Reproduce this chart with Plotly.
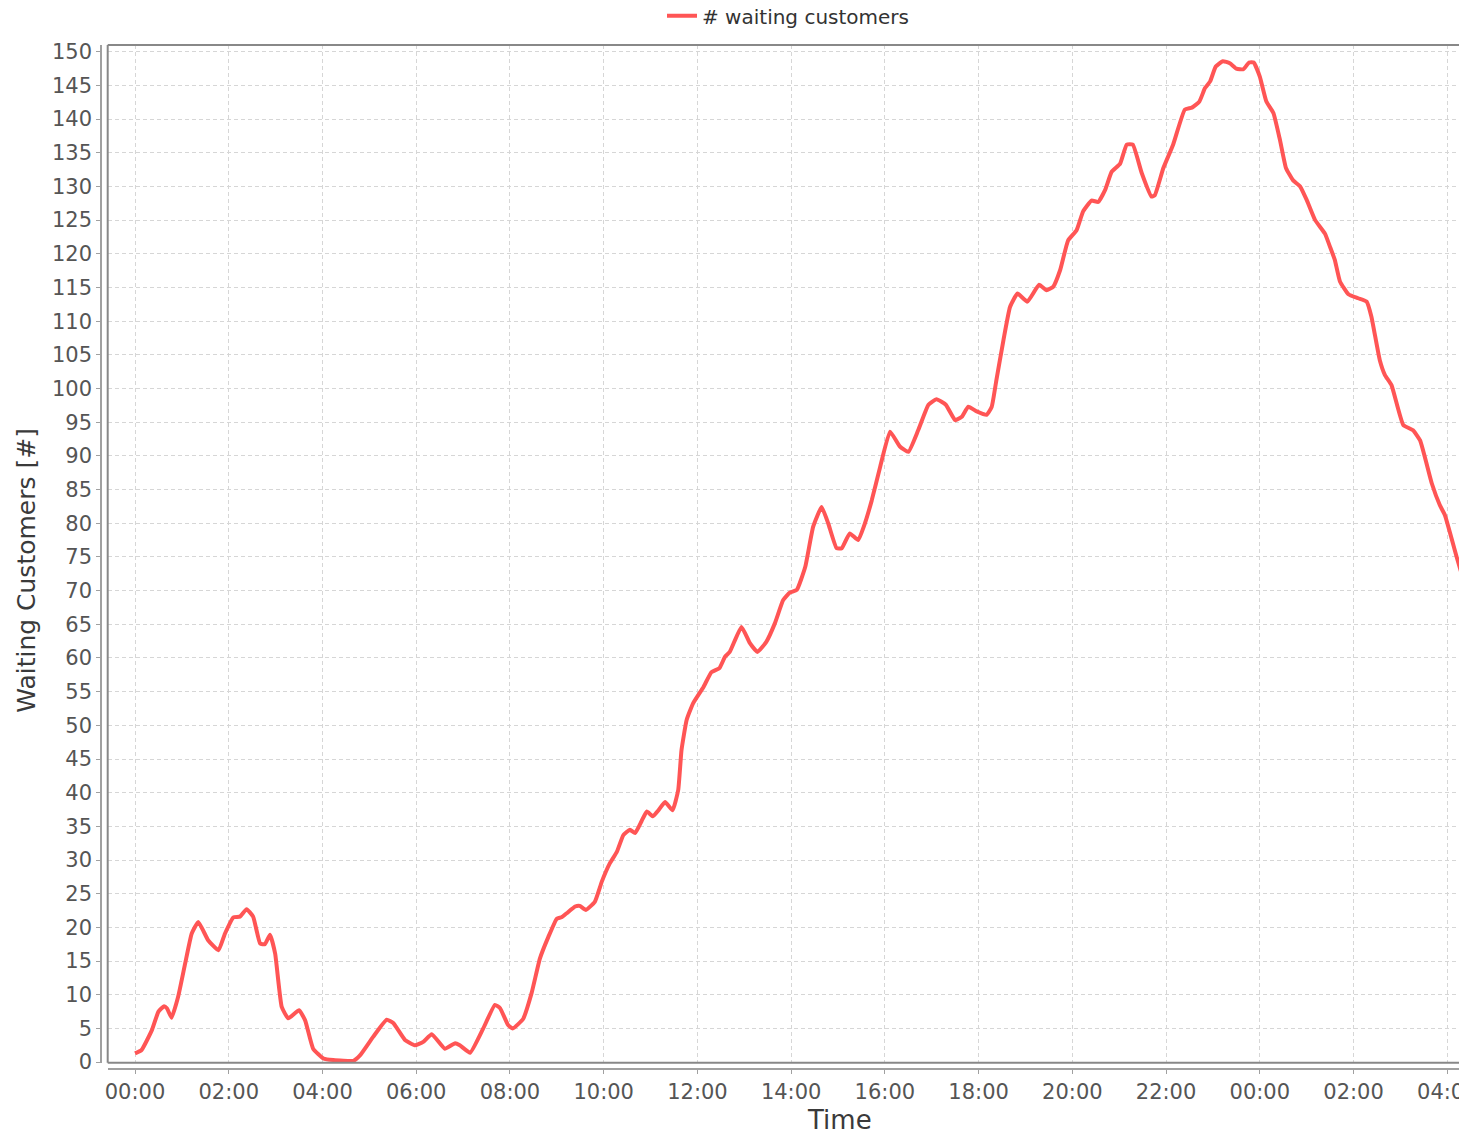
import pandas as pd
import plotly.graph_objects as go

# hours since the start of the run, and waiting customers
hours = [0, 0.14, 0.36, 0.5, 0.62, 0.68, 0.78, 0.92, 1.07, 1.21, 1.35, 1.56, 1.78, 1.92,
         2.1, 2.24, 2.38, 2.52, 2.67, 2.77, 2.88, 2.99, 3.13, 3.27, 3.5, 3.63, 3.8,
         4.02, 4.23, 4.66, 4.8, 5.08, 5.37, 5.51, 5.76, 5.97, 6.15, 6.33, 6.61, 6.83,
         6.93, 7.15, 7.43, 7.68, 7.79, 7.96, 8.06, 8.28, 8.46, 8.64, 8.82, 9.0, 9.1,
         9.21, 9.39, 9.49, 9.62, 9.81, 9.96, 10.13, 10.28, 10.42, 10.56, 10.67, 10.81,
         10.92, 11.05, 11.17, 11.31, 11.47, 11.59, 11.66, 11.77, 11.91, 12.13, 12.3,
         12.47, 12.59, 12.69, 12.94, 13.12, 13.28, 13.47, 13.65, 13.83, 13.97, 14.12,
         14.3, 14.47, 14.65, 14.79, 14.97, 15.08, 15.25, 15.43, 15.55, 15.72, 15.9,
         16.11, 16.32, 16.5, 16.71, 16.93, 17.1, 17.3, 17.5, 17.64, 17.78, 17.96,
         18.17, 18.28, 18.38, 18.53, 18.67, 18.83, 19.04, 19.29, 19.45, 19.59, 19.74,
         19.91, 20.09, 20.23, 20.41, 20.55, 20.7, 20.84, 21.02, 21.16, 21.29, 21.48,
         21.69, 21.76, 21.94, 22.15, 22.4, 22.55, 22.71, 22.83, 22.94, 23.06, 23.21,
         23.36, 23.5, 23.65, 23.77, 23.87, 24.0, 24.14, 24.29, 24.43, 24.56, 24.71,
         24.86, 25.0, 25.18, 25.39, 25.5, 25.6, 25.71, 25.89, 26.1, 26.28, 26.38,
         26.56, 26.67, 26.81, 27.06, 27.27, 27.42, 27.67, 27.84, 27.95, 28.2, 28.41,
         28.6]
waiting = [1.3, 1.8, 4.75, 7.5, 8.3, 8.0, 6.6, 9.7, 14.65, 19.1, 20.8, 18.1, 16.6, 19.1,
           21.5, 21.6, 22.7, 21.6, 17.6, 17.5, 18.9, 16.1, 8.2, 6.5, 7.7, 6.2, 2.0,
           0.55, 0.3, 0.2, 1.0, 3.75, 6.3, 5.8, 3.3, 2.5, 3.0, 4.15, 2.0, 2.8,
           2.5, 1.4, 5.0, 8.5, 8.0, 5.5, 5.0, 6.4, 10.2, 15.4, 18.6, 21.3, 21.5,
           22.1, 23.1, 23.2, 22.6, 23.8, 26.8, 29.5, 31.2, 33.7, 34.5, 34.0, 35.8,
           37.2, 36.5, 37.4, 38.6, 37.4, 40.4, 46.3, 50.8, 53.3, 55.7, 57.9,
           58.5, 60.2, 60.9, 64.6, 62.2, 60.9, 62.4, 65.1, 68.6, 69.7, 70.1,
           73.5, 79.5, 82.4, 80.0, 76.3, 76.3, 78.5, 77.5, 79.5, 83.4, 88.4,
           93.6, 91.4, 90.6, 93.8, 97.6, 98.4, 97.6, 95.3, 95.8, 97.3, 96.6,
           96.1, 97.3, 101.3, 107.2, 112.1, 114.1, 112.9, 115.4, 114.6, 115.1, 117.6,
           122.0, 123.5, 126.3, 127.9, 127.7, 129.5, 132.2, 133.4, 136.2, 136.2, 132.0,
           128.5, 128.7, 132.7, 136.2, 141.4, 141.7, 142.6, 144.6, 145.6, 147.8, 148.6,
           148.3, 147.5, 147.4, 148.4, 148.4, 146.3, 142.6, 140.9, 136.9, 132.7, 130.9,
           130.0, 128.0, 125.0, 123.0, 121.0, 119.1, 115.9, 114.0, 113.4, 112.9, 110.7,
           104.2, 102.0, 100.5, 94.6, 93.8, 92.3, 85.9, 82.7, 81.2, 75.0, 70.1,
           66.0]

start = pd.Timestamp("2020-01-01 00:00")
times = start + pd.to_timedelta(hours, unit="h")

# the page body has an 8px margin, so the figure is drawn 8px in from the corner
OFF = 8
W, H = 1467 - 2 * OFF, 1139 - 2 * OFF
ml = 101 - OFF
mt = 45 - OFF
mb = H - (1069.5 - OFF)
pw, ph = W - ml, H - mt - mb


def px_x(x):
    return (x - OFF - ml) / pw


def px_y(y):
    return (H - mb - (y - OFF)) / ph


fig = go.Figure()
fig.add_trace(go.Scatter(x=times, y=waiting, mode="lines", name="# waiting customers",
                         line=dict(color="#FF5555", width=4, shape="spline", smoothing=0.4)))

grid = dict(showgrid=True, gridcolor="#d6d6d6", gridwidth=1, griddash="4px,3px", zeroline=False)
fig.update_xaxes(**grid, domain=[6.7 / pw, 1], anchor="free", position=0,
                 range=[start - pd.Timedelta(hours=0.583), start + pd.Timedelta(hours=28.25)],
                 tickformat="%H:%M", dtick=2 * 3600 * 1000, tick0=start,
                 ticklabeloverflow="allow",
                 showline=True, linecolor="#a0a0a0", linewidth=1.5,
                 ticks="outside", ticklen=4, tickcolor="#a0a0a0",
                 tickfont=dict(size=21, color="#555555"))
fig.update_yaxes(**grid, domain=[6.2 / ph, 1], anchor="free", position=0,
                 range=[-0.1, 151], dtick=5, tick0=0,
                 showline=True, linecolor="#a0a0a0", linewidth=1.5,
                 ticks="outside", ticklen=4, tickcolor="#a0a0a0",
                 tickfont=dict(size=21, color="#555555"))

# plot frame (top, left, bottom)
for x0, y0, x1, y1 in [(0, 1, 1, 1), (0, 0, 0, 1), (0, 0, 1, 0)]:
    fig.add_shape(type="line", xref="x domain", yref="y domain", x0=x0, y0=y0, x1=x1, y1=y1,
                  line=dict(color="#888888", width=2))

fig.add_annotation(text="Time", xref="paper", yref="paper", x=px_x(840), y=px_y(1121),
                   xanchor="center", yanchor="middle", showarrow=False,
                   font=dict(size=26, color="#3a3a3a"))
fig.add_annotation(text="Waiting Customers [#]", textangle=-90, xref="paper", yref="paper",
                   x=px_x(27), y=px_y(571), xanchor="center", yanchor="middle",
                   showarrow=False, font=dict(size=25, color="#3a3a3a"))

fig.update_layout(
    width=W, height=H,
    margin=dict(l=ml, r=0, t=mt, b=mb, autoexpand=False),
    plot_bgcolor="white", paper_bgcolor="white",
    font=dict(family="DejaVu Sans", color="#444444"),
    showlegend=True,
    legend=dict(orientation="h", x=px_x(662), xanchor="left",
                y=px_y(15.7), yanchor="middle",
                font=dict(size=20, color="#333333"), bgcolor="rgba(0,0,0,0)"),
)

fig.write_html("out.html")
